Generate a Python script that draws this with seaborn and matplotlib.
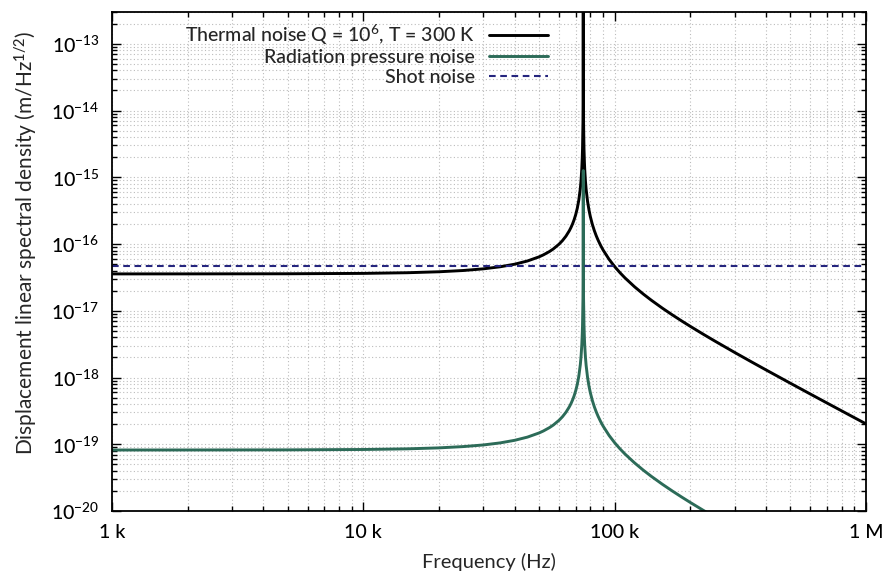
import numpy as np
import pandas as pd
import seaborn as sns
import matplotlib
matplotlib.use("Agg")
import matplotlib.pyplot as plt
from matplotlib.ticker import FixedLocator, FixedFormatter, LogLocator, NullFormatter

# ---------------- data ----------------
thermal_freq_khz = [1, 2, 5, 10, 15, 20, 25, 30, 35, 40,
                    45, 50, 52, 55, 57, 60, 62, 64, 66, 67,
                    68, 69, 70, 71, 72, 73, 73.5, 74, 74.3, 74.5,
                    74.8, 74.95, 75, 75.05, 75.2, 75.5, 75.8, 76, 76.5, 77,
                    78, 79, 80, 81.5, 83, 84.5, 86, 88, 90, 95,
                    100, 105, 110, 120, 130, 140, 155, 170, 185, 200,
                    225, 250, 300, 350, 400, 500, 600, 700, 850, 1000]
thermal_noise = [3.570e-17, 3.573e-17, 3.586e-17, 3.635e-17, 3.719e-17, 3.843e-17, 4.016e-17, 4.250e-17, 4.564e-17, 4.989e-17,
                 5.578e-17, 6.426e-17, 6.875e-17, 7.720e-17, 8.452e-17, 9.920e-17, 1.1275e-16, 1.313e-16, 1.5824e-16, 1.768e-16,
                 2.006e-16, 2.324e-16, 2.770e-16, 3.439e-16, 4.554e-16, 6.780e-16, 9.015e-16, 1.348e-15, 1.921e-15, 2.680e-15,
                 6.700e-15, 2.680e-14, 3.570e-11, 2.680e-14, 6.690e-15, 2.669e-15, 1.665e-15, 1.330e-15, 8.836e-16, 6.610e-16,
                 4.375e-16, 3.260e-16, 2.591e-16, 1.974e-16, 1.589e-16, 1.3253e-16, 1.134e-16, 9.477e-17, 8.110e-17, 5.906e-17,
                 4.590e-17, 3.719e-17, 3.101e-17, 2.288e-17, 1.781e-17, 1.437e-17, 1.0914e-17, 8.630e-18, 7.021e-18, 5.842e-18,
                 4.4625e-18, 3.531e-18, 2.380e-18, 1.718e-18, 1.301e-18, 8.220e-19, 5.667e-19, 4.146e-19, 2.801e-19, 2.020e-19]

rad_freq_khz = [1, 2, 5, 10, 15, 20, 25, 30, 35, 40,
                45, 50, 52, 55, 57, 60, 62, 64, 66, 67,
                68, 69, 70, 71, 72, 73, 73.5, 74, 74.3, 74.5,
                74.8, 74.95, 75, 75.05, 75.2, 75.5, 75.8, 76, 76.5, 77,
                78, 79, 80, 81.5, 83, 84.5, 86, 88, 90, 95,
                100, 105, 110, 120, 130, 140, 155, 170, 185, 200,
                225, 250, 300]
rad_noise = [8.20e-20, 8.21e-20, 8.24e-20, 8.35e-20, 8.54e-20, 8.83e-20, 9.23e-20, 9.76e-20, 1.048e-19, 1.146e-19,
             1.281e-19, 1.476e-19, 1.579e-19, 1.774e-19, 1.941e-19, 2.278e-19, 2.590e-19, 3.017e-19, 3.635e-19, 4.060e-19,
             4.608e-19, 5.339e-19, 6.362e-19, 7.898e-19, 1.046e-18, 1.558e-18, 2.071e-18, 3.096e-18, 4.413e-18, 6.160e-18,
             1.538e-17, 6.150e-17, 1.260e-15, 6.150e-17, 1.536e-17, 6.130e-18, 3.824e-18, 3.055e-18, 2.030e-18, 1.517e-18,
             1.005e-18, 7.488e-19, 5.950e-19, 4.534e-19, 3.649e-19, 3.044e-19, 2.604e-19, 2.177e-19, 1.864e-19, 1.357e-19,
             1.054e-19, 8.54e-20, 7.12e-20, 5.26e-20, 4.091e-20, 3.30e-20, 2.507e-20, 1.982e-20, 1.613e-20, 1.342e-20,
             1.025e-20, 8.11e-21, 5.47e-21]

shot_freq_khz = [1, 1000]
shot_noise = [4.75e-17, 4.75e-17]

labels = ["Thermal noise Q = 10$^{6}$, T = 300 K",
          "Radiation pressure noise",
          "Shot noise"]
colors = ["#000000", "#2c6b58", "#25257e"]

x_ticks = [1e3, 1e4, 1e5, 1e6]
x_ticklabels = ["1 k", "10 k", "100 k", "1 M"]
y_ticks = [10.0 ** e for e in range(-20, -12)]
y_ticklabels = ["$10^{%d}$" % e for e in range(-20, -12)]

# ---------------- style ----------------
sns.set_theme(style="ticks")
FONT = "Lato"
plt.rcParams["font.family"] = [FONT, "DejaVu Sans"]
plt.rcParams["font.weight"] = "medium"
plt.rcParams["mathtext.fontset"] = "custom"
plt.rcParams["mathtext.rm"] = FONT + ":medium"
plt.rcParams["mathtext.it"] = FONT + ":italic"
plt.rcParams["mathtext.bf"] = FONT + ":bold"
FS = 14
plt.rcParams["font.size"] = FS

fig = plt.figure(figsize=(8.86, 5.76), dpi=100)
ax = fig.add_axes([112 / 886, 1 - 511 / 576, (866 - 112) / 886, (511 - 12) / 576])

df_t = pd.DataFrame({"f": np.array(thermal_freq_khz) * 1e3, "v": thermal_noise})
df_r = pd.DataFrame({"f": np.array(rad_freq_khz) * 1e3, "v": rad_noise})
df_s = pd.DataFrame({"f": np.array(shot_freq_khz) * 1e3, "v": shot_noise})

sns.lineplot(data=df_t, x="f", y="v", ax=ax, color=colors[0], lw=2.1,
             label=labels[0], estimator=None, sort=False)
sns.lineplot(data=df_r, x="f", y="v", ax=ax, color=colors[1], lw=2.1,
             label=labels[1], estimator=None, sort=False)
sns.lineplot(data=df_s, x="f", y="v", ax=ax, color=colors[2], lw=1.5,
             label=labels[2], estimator=None, sort=False)
ax.lines[2].set_dashes((3.2, 2.2))

ax.set_xscale("log")
ax.set_yscale("log")
ax.set_xlim(1e3, 1e6)
ax.set_ylim(1e-20, 3e-13)

ax.xaxis.set_major_locator(FixedLocator(x_ticks))
ax.xaxis.set_major_formatter(FixedFormatter(x_ticklabels))
ax.yaxis.set_major_locator(FixedLocator(y_ticks))
ax.yaxis.set_major_formatter(FixedFormatter(y_ticklabels))
ax.xaxis.set_minor_locator(LogLocator(base=10, subs=np.arange(2, 10), numticks=20))
ax.yaxis.set_minor_locator(LogLocator(base=10, subs=np.arange(2, 10), numticks=30))
ax.xaxis.set_minor_formatter(NullFormatter())
ax.yaxis.set_minor_formatter(NullFormatter())

ax.tick_params(which="both", direction="in", top=True, right=True, colors="black",
               labelsize=FS, width=1.0)
ax.tick_params(which="major", length=6.5, pad=9)
ax.tick_params(which="minor", length=3.5)

ax.grid(True, which="both", color="#bcbcbc", linestyle=(0, (1, 2.2)), linewidth=0.8)
ax.set_axisbelow(True)
for s in ax.spines.values():
    s.set_linewidth(1.3)
    s.set_color("black")

ax.set_xlabel("Frequency (Hz)", fontsize=14.5, labelpad=9)
ax.set_ylabel("Displacement linear spectral density (m/Hz$^{1/2}$)", fontsize=15)
ax.yaxis.set_label_coords(-0.097, (511 - 243) / 499)

leg = ax.legend(loc="upper right", bbox_to_anchor=(0.592, 1.0), frameon=False,
                markerfirst=False, handlelength=3.0, handletextpad=0.75,
                labelspacing=0.12, fontsize=FS, borderaxespad=0.15)

fig.savefig("out.png", dpi=100)
